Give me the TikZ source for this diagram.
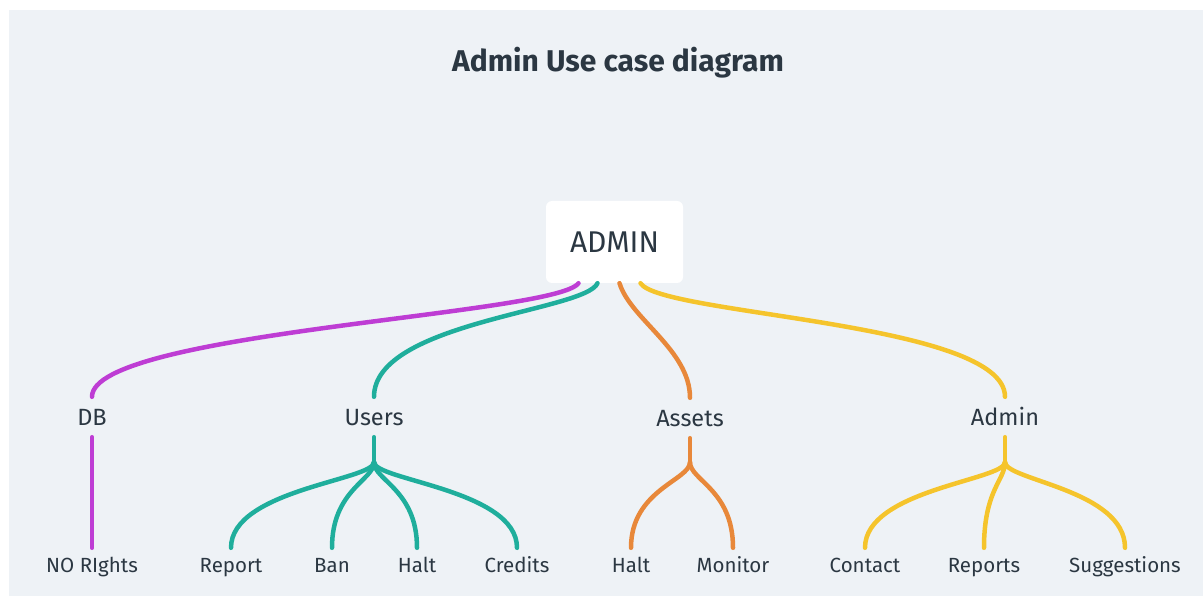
\documentclass[tikz,border=0pt]{standalone}
\usepackage{fontspec}
\setmainfont{Fira Sans}
\definecolor{bgray}{HTML}{EEF2F6}
\definecolor{ink}{HTML}{2B3742}
\definecolor{cdb}{HTML}{BE3DD4}
\definecolor{cusers}{HTML}{1FAE9C}
\definecolor{cassets}{HTML}{E8883A}
\definecolor{cadmin}{HTML}{F5C42C}

\begin{document}
\begin{tikzpicture}[x=1pt,y=-1pt,
	branch/.style={line width=4.5pt,line cap=round},
	topic/.style={text=ink,font=\fontsize{23.5}{26}\selectfont,inner sep=0pt,text height=16.5pt,text depth=0pt,minimum height=40pt},
	leaf/.style={text=ink,font=\fontsize{20.5}{24}\selectfont,inner sep=0pt,text height=14.5pt,text depth=0pt,minimum height=34pt}]
	\fill[white] (0,0) rectangle (1203,596);
	\fill[bgray] (9,10) rectangle (1203,596);
	
	\node[text=ink,font=\bfseries\fontsize{30}{34}\selectfont] (title) at (618,63) {Admin Use case diagram};
	\node[fill=white,rounded corners=6pt,minimum width=137pt,minimum height=82pt,inner sep=0pt,
		text=ink,font=\fontsize{30}{34}\selectfont,text height=21pt,text depth=0pt] (admin) at (614.5,242) {ADMIN};
	
	% second level
	\node[topic] (db) at (92,417) {DB};
	\node[topic] (users) at (374,417) {Users};
	\node[topic] (assets) at (690,418) {Assets};
	\node[topic] (admins) at (1005,417) {Admin};
	
	% leaves
	\node[leaf] (norights) at (92,565) {NO RIghts};
	\node[leaf] (report) at (231,565) {Report};
	\node[leaf] (ban) at (332,565) {Ban};
	\node[leaf] (halta) at (417,565) {Halt};
	\node[leaf] (credits) at (517,565) {Credits};
	\node[leaf] (haltb) at (631,565) {Halt};
	\node[leaf] (monitor) at (733,565) {Monitor};
	\node[leaf] (contact) at (865,565) {Contact};
	\node[leaf] (reports) at (984,565) {Reports};
	\node[leaf] (suggestions) at (1125,565) {Suggestions};
	
	\draw[branch,cdb] ([xshift=-36pt]admin.south) .. controls +(-23,32) and (92,332) .. (db.north);
	\draw[branch,cusers] ([xshift=-17pt]admin.south) .. controls +(-12,28) and (374,322) .. (users.north);
	\draw[branch,cassets] ([xshift=5pt]admin.south) .. controls +(11,36) and (690,350) .. (assets.north);
	\draw[branch,cadmin] ([xshift=26pt]admin.south) .. controls +(20,32) and (1005,322) .. (admins.north);
	
	\draw[branch,cdb] (db.south) -- (norights.north);
	\draw[branch,cusers] (users.south) -- ++(0,25) coordinate (uj);
	\foreach \c in {report,ban,halta,credits}{
		\draw[branch,cusers] (uj) .. controls +(0,18) and ([yshift=58pt]\c.north) .. (\c.north);
	}
	\draw[branch,cassets] (assets.south) -- ++(0,24) coordinate (aj);
	\foreach \c in {haltb,monitor}{
		\draw[branch,cassets] (aj) .. controls +(0,18) and ([yshift=58pt]\c.north) .. (\c.north);
	}
	\draw[branch,cadmin] (admins.south) -- ++(0,25) coordinate (mj);
	\foreach \c in {contact,reports,suggestions}{
		\draw[branch,cadmin] (mj) .. controls +(0,18) and ([yshift=58pt]\c.north) .. (\c.north);
	}
\end{tikzpicture}
\end{document}
